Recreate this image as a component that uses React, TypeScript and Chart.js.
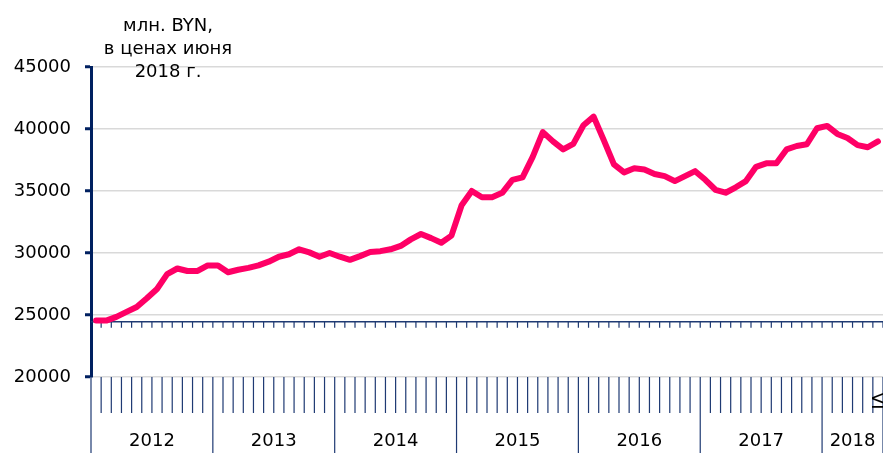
import React, { useEffect, useRef } from "react";
import { Chart, registerables } from "chart.js";

Chart.register(...registerables);

// ---- data ----
const YEARS = ["2012", "2013", "2014", "2015", "2016", "2017", "2018"];
const MONTHS_ROMAN = ["I", "II", "III", "IV", "V", "VI", "VII", "VIII", "IX", "X", "XI", "XII"];
const MONTHS_IN_LAST_YEAR = 6;

const VALUES_2012 = [24550, 24550, 24850, 25250, 25650, 26350, 27100, 28300, 28750, 28550, 28550, 29000];
const VALUES_2013 = [29000, 28450, 28650, 28800, 29000, 29300, 29700, 29900, 30300, 30050, 29700, 30000];
const VALUES_2014 = [29700, 29450, 29750, 30080, 30150, 30300, 30570, 31100, 31530, 31200, 30830, 31400];
const VALUES_2015 = [33850, 35000, 34500, 34500, 34850, 35900, 36100, 37750, 39750, 39000, 38350, 38800];
const VALUES_2016 = [40300, 41000, 39100, 37150, 36500, 36830, 36730, 36370, 36200, 35800, 36200, 36600];
const VALUES_2017 = [35900, 35100, 34860, 35300, 35800, 36950, 37230, 37230, 38350, 38630, 38770, 40060];
const VALUES_2018 = [40250, 39600, 39280, 38700, 38530, 39000];

const Y_MIN = 20000;
const Y_MAX = 45000;
const Y_STEP = 5000;
const AXIS_CROSS = 24450; // value where the category axis line crosses

const UNIT_LINES = ["млн. BYN,", "в ценах июня", "2018 г."];

const CATEGORIES: { year: string; month: string }[] = [];
YEARS.forEach((y, yi) => {
  const count = yi === YEARS.length - 1 ? MONTHS_IN_LAST_YEAR : 12;
  for (let m = 0; m < count; m++) CATEGORIES.push({ year: y, month: MONTHS_ROMAN[m] });
});
const LABELS = CATEGORIES.map((c) => `${c.month} ${c.year}`);
const VALUES = [
  ...VALUES_2012,
  ...VALUES_2013,
  ...VALUES_2014,
  ...VALUES_2015,
  ...VALUES_2016,
  ...VALUES_2017,
  ...VALUES_2018,
];

// ---- styles ----
const FONT = "DejaVu Sans";
const NAVY = "#002060";
const AXIS_NAVY = "#1f3a73";
const LINE_COLOR = "#ff0066";
const GRID_COLOR = "#d9d9d9";

const decorPlugin = {
  id: "decor",
  beforeDatasetsDraw(chart: any) {
    const { ctx, chartArea, scales } = chart;
    const x = scales.x;
    const y = scales.y;
    const n = LABELS.length;
    const half = (x.getPixelForValue(1) - x.getPixelForValue(0)) / 2;
    const ay = y.getPixelForValue(AXIS_CROSS);
    ctx.save();
    ctx.strokeStyle = AXIS_NAVY;
    ctx.lineWidth = 1.5;
    ctx.beginPath();
    ctx.moveTo(chartArea.left, ay);
    ctx.lineTo(chartArea.right, ay);
    ctx.stroke();
    ctx.lineWidth = 1.2;
    ctx.beginPath();
    for (let i = 1; i <= n; i++) {
      const px = x.getPixelForValue(i - 1) + half;
      ctx.moveTo(px, ay);
      ctx.lineTo(px, ay + 6);
    }
    ctx.stroke();
    ctx.restore();
  },
  afterDraw(chart: any) {
    const { ctx, chartArea, scales } = chart;
    const x = scales.x;
    const n = LABELS.length;
    const half = (x.getPixelForValue(1) - x.getPixelForValue(0)) / 2;
    const bottom = chartArea.bottom;
    const H = chart.height;
    const boundary = (i: number) => (i < n ? x.getPixelForValue(i) - half : x.getPixelForValue(n - 1) + half);
    ctx.save();
    ctx.strokeStyle = AXIS_NAVY;
    ctx.lineWidth = 1.2;
    ctx.beginPath();
    let prevYear = "";
    const yearStarts: number[] = [];
    for (let i = 0; i <= n; i++) {
      const isYearStart = i === n || CATEGORIES[i].year !== prevYear;
      if (i < n) prevYear = CATEGORIES[i].year;
      const px = boundary(i);
      if (isYearStart) {
        yearStarts.push(i);
        ctx.moveTo(px, bottom);
        ctx.lineTo(px, H);
      } else {
        ctx.moveTo(px, bottom);
        ctx.lineTo(px, bottom + 36);
      }
    }
    ctx.stroke();

    ctx.fillStyle = "#000";
    ctx.font = `18px "${FONT}"`;
    ctx.textAlign = "center";
    ctx.textBaseline = "middle";
    for (let k = 0; k < yearStarts.length - 1; k++) {
      const a = boundary(yearStarts[k]);
      const b = boundary(yearStarts[k + 1]);
      ctx.fillText(CATEGORIES[yearStarts[k]].year, (a + b) / 2, bottom + 64);
    }

    // last month label, rotated
    const last = CATEGORIES[n - 1];
    const lx = x.getPixelForValue(n - 1);
    ctx.save();
    ctx.translate(lx - 6, bottom + 15);
    ctx.rotate(Math.PI / 2);
    ctx.textAlign = "left";
    ctx.textBaseline = "alphabetic";
    ctx.fillText(last.month, 0, 0);
    ctx.restore();

    // unit title
    ctx.textAlign = "center";
    ctx.textBaseline = "alphabetic";
    const baselines = [31, 54, 77];
    UNIT_LINES.forEach((t, i) => ctx.fillText(t, 168, baselines[i]));
    ctx.restore();
  },
};

export default function App() {
  const ref = useRef<HTMLCanvasElement | null>(null);
  useEffect(() => {
    if (!ref.current) return;
    const chart = new Chart(ref.current, {
      type: "line",
      data: {
        labels: LABELS,
        datasets: [
          {
            data: VALUES,
            borderColor: LINE_COLOR,
            backgroundColor: LINE_COLOR,
            borderWidth: 6,
            pointRadius: 0,
            tension: 0,
            borderJoinStyle: "round",
            borderCapStyle: "round",
          },
        ],
      },
      options: {
        responsive: true,
        maintainAspectRatio: false,
        animation: false,
        layout: { padding: { top: 67, bottom: 76, left: 0, right: 0 } },
        plugins: {
          legend: { display: false },
          tooltip: { enabled: false },
          title: { display: false },
        },
        scales: {
          x: { type: "category", offset: true, display: false },
          y: {
            min: Y_MIN,
            max: Y_MAX,
            afterFit: (s: any) => {
              s.width = 91;
            },
            ticks: {
              stepSize: Y_STEP,
              padding: 14,
              color: "#000",
              font: { family: FONT, size: 18 },
              callback: (v: any) => String(v),
            },
            grid: {
              color: GRID_COLOR,
              lineWidth: 1.5,
              tickColor: NAVY,
              tickWidth: 3,
              tickLength: 6,
              drawTicks: true,
            },
            border: { display: true, color: NAVY, width: 3 },
          },
        },
      },
      plugins: [decorPlugin],
    } as any);
    return () => chart.destroy();
  }, []);
  return (
    <div style={{ position: "fixed", left: 0, top: 0, width: 883, height: 453, background: "#fff" }}>
      <canvas ref={ref} />
    </div>
  );
}
